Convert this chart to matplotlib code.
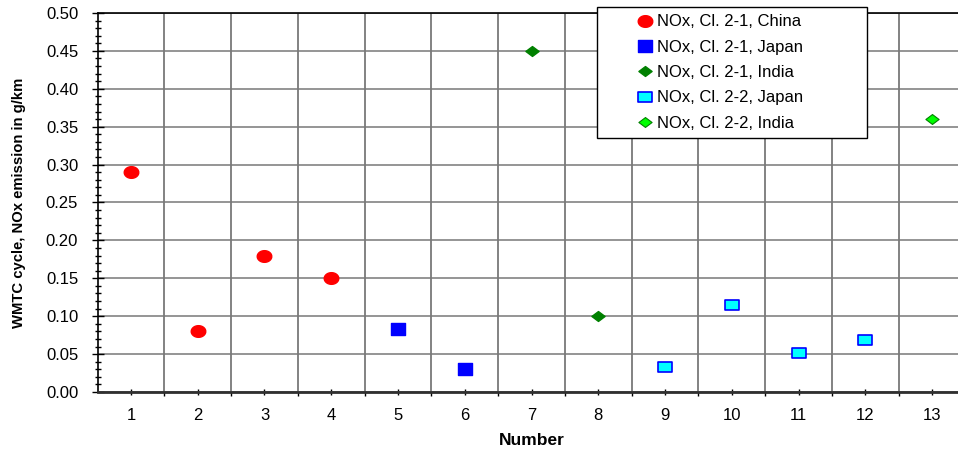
import numpy as np
import matplotlib
matplotlib.use("Agg")
import matplotlib.pyplot as plt
from matplotlib.path import Path
from matplotlib.ticker import MultipleLocator, FixedLocator

plt.rcParams['font.family'] = ['Liberation Sans', 'DejaVu Sans']

# NOx emission per vehicle number, grouped by class and market
china_21_x = [1, 2, 3, 4]
china_21_y = [0.29, 0.08, 0.18, 0.15]
japan_21_x = [5, 6]
japan_21_y = [0.083, 0.030]
india_21_x = [7, 8]
india_21_y = [0.45, 0.10]
japan_22_x = [9, 10, 11, 12]
japan_22_y = [0.033, 0.115, 0.052, 0.068]
india_22_x = [13]
india_22_y = [0.36]

labels = ['NOx, Cl. 2-1, China', 'NOx, Cl. 2-1, Japan', 'NOx, Cl. 2-1, India',
          'NOx, Cl. 2-2, Japan', 'NOx, Cl. 2-2, India']

# slightly wide markers
t = np.linspace(0, 2 * np.pi, 40)
ellipse = Path(np.column_stack([np.cos(t), 0.8 * np.sin(t)]))
rect = Path([(-1, -0.8), (1, -0.8), (1, 0.8), (-1, 0.8), (-1, -0.8)], closed=True)
diamond = Path([(-1, 0), (0, -0.75), (1, 0), (0, 0.75), (-1, 0)], closed=True)

fig = plt.figure(figsize=(9.58, 4.51), dpi=100)
ax = fig.add_axes([97.6 / 958, 59 / 451, 867.8 / 958, 379 / 451])

ax.plot(china_21_x, china_21_y, ls='none', marker=ellipse, ms=10.5,
        mfc='#ff0000', mec='#ff0000', label=labels[0], zorder=3)
ax.plot(japan_21_x, japan_21_y, ls='none', marker=rect, ms=10,
        mfc='#0000ff', mec='#0000ff', label=labels[1], zorder=3)
ax.plot(india_21_x, india_21_y, ls='none', marker=diamond, ms=9.5,
        mfc='#008000', mec='#008000', label=labels[2], zorder=3)
ax.plot(japan_22_x, japan_22_y, ls='none', marker=rect, ms=9.5,
        mfc='#00ffff', mec='#0000ff', mew=1.2, label=labels[3], zorder=3)
ax.plot(india_22_x, india_22_y, ls='none', marker=diamond, ms=9.5,
        mfc='#00ff00', mec='#008000', mew=0.8, label=labels[4], zorder=3)

ax.set_xlim(0.5, 13.5)
ax.set_ylim(0, 0.5)

ax.xaxis.set_major_locator(FixedLocator(range(1, 14)))
ax.xaxis.set_minor_locator(FixedLocator(np.arange(1.5, 13.5, 1.0)))
ax.yaxis.set_major_locator(MultipleLocator(0.05))
ax.yaxis.set_minor_locator(MultipleLocator(0.01))
ax.yaxis.set_major_formatter(matplotlib.ticker.FormatStrFormatter('%.2f'))

ax.grid(axis='y', which='major', color='#787878', lw=1.1)
ax.grid(axis='x', which='minor', color='#606060', lw=1.1)

ax.tick_params(axis='y', which='major', direction='inout', length=8, width=1,
               labelsize=12, pad=10)
ax.tick_params(axis='y', which='minor', direction='inout', length=5, width=1)
ax.tick_params(axis='x', which='major', direction='inout', length=5, width=1,
               labelsize=12, pad=9)
ax.tick_params(axis='x', which='minor', direction='out', length=3, width=1)

for side in ['left', 'top', 'right']:
    ax.spines[side].set_linewidth(1.2)
ax.spines['bottom'].set_linewidth(2)
ax.spines['bottom'].set_color('#303030')

ax.set_xlabel('Number', fontsize=12.5, fontweight='bold')
ax.xaxis.set_label_coords(0.5, -0.107)
ax.xaxis.label.set_va('top')
ax.set_ylabel('WMTC cycle, NOx emission in g/km', fontsize=10.7, fontweight='bold')
ax.yaxis.set_label_coords((19 - 97.6) / 867.8, 0.5)
ax.yaxis.label.set_va('center')

leg = ax.legend(loc='upper left', bbox_to_anchor=(0.5755, 0.675, 0.311, 0.341),
                mode='expand', borderaxespad=0, fontsize=12, numpoints=1,
                handlelength=4.86, handletextpad=-1.71, labelspacing=0.62,
                borderpad=0.45, fancybox=False, framealpha=1, edgecolor='black')
leg.get_frame().set_linewidth(1)
leg.set_zorder(5)

fig.savefig('out.png', dpi=100)
